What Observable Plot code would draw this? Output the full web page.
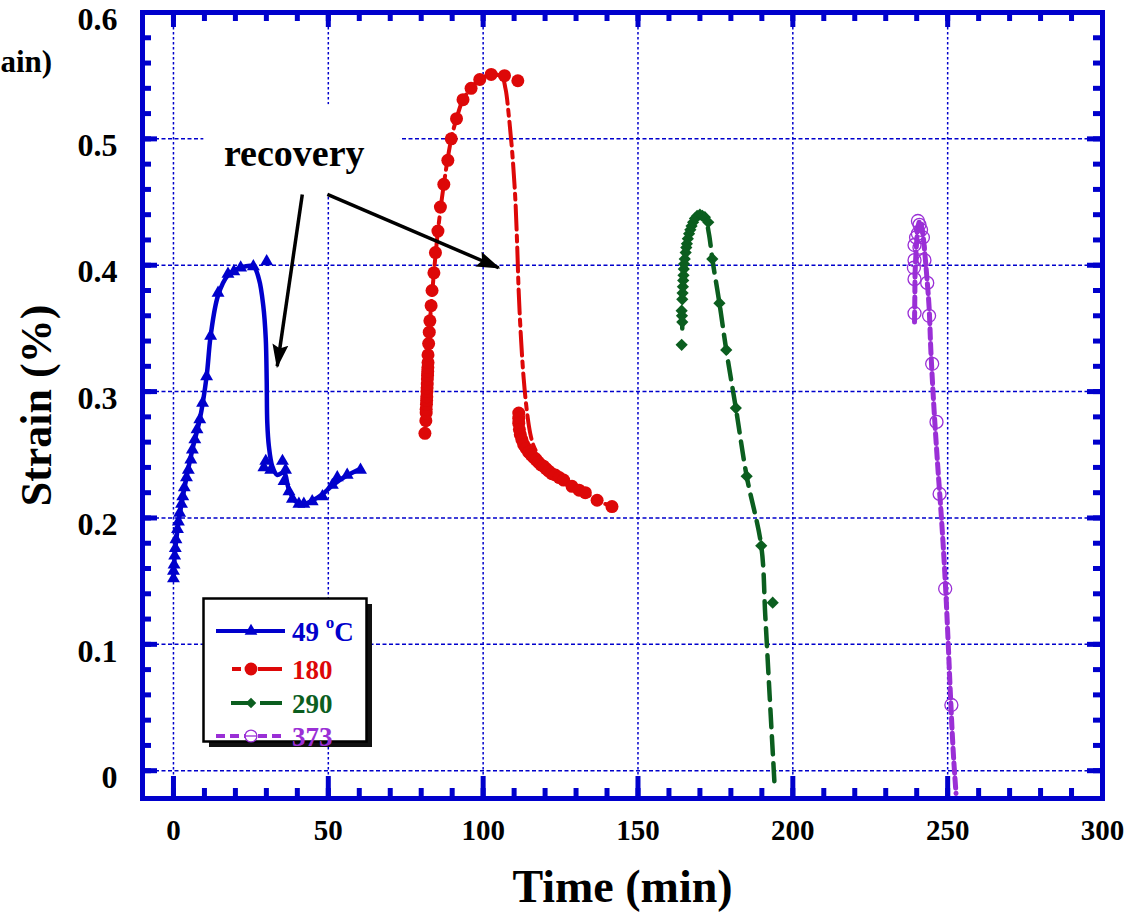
<!DOCTYPE html>
<html><head><meta charset="utf-8">
<script src="https://cdn.jsdelivr.net/npm/d3@7"></script>
<script src="https://cdn.jsdelivr.net/npm/@observablehq/plot@0.6"></script>
<style>
body{margin:0;background:#fff}
#chart svg{display:block}
</style></head><body><div id="chart"></div>
<script>
// ---- data (time in min, strain in %) ----
const series = ["49 °C", "180", "290", "373"];
const xTicks = [0, 50, 100, 150, 200, 250, 300];
const yTicks = [0, 0.1, 0.2, 0.3, 0.4, 0.5, 0.6];
const yTickLabels = ["0", "0.1", "0.2", "0.3", "0.4", "0.5", "0.6"];
const xGrid = [0, 50, 100, 150, 200, 250];
const yGrid = [0, 0.1, 0.2, 0.3, 0.4, 0.5];
const xMinor = [0,10,20,30,40,50,60,70,80,90,100,110,120,130,140,150,160,170,180,190,200,210,220,230,240,250,260,270,280,290];
const yMinor = [0,0.02,0.04,0.06,0.08,0.1,0.12,0.14,0.16,0.18,0.2,0.22,0.24,0.26,0.28,0.3,0.32,0.34,0.36,0.38,0.4,0.42,0.44,0.46,0.48,0.5,0.52,0.54,0.56,0.58];

// 49 °C markers
const t49 = [0, 0, 0.2, 0.4, 0.6, 0.8, 1.3, 1.6, 2.0, 2.6, 3.0, 3.5, 4.2, 4.8, 5.6, 6.1, 6.9, 7.6, 8.5, 9.4, 10.7, 12.0, 14.4, 17.6, 19.5, 21.7, 25.8, 30.1, 29.2, 29.8, 31.4, 35.2, 36.2, 35.7, 37.3, 38.4, 40.5, 42.1, 44.8, 48.1, 51.3, 52.9, 56.1, 60.4];
const s49 = [0.152, 0.158, 0.163, 0.170, 0.176, 0.183, 0.191, 0.197, 0.204, 0.211, 0.217, 0.224, 0.232, 0.238, 0.246, 0.254, 0.262, 0.270, 0.278, 0.291, 0.312, 0.344, 0.378, 0.393, 0.395, 0.398, 0.399, 0.403, 0.240, 0.245, 0.238, 0.245, 0.238, 0.229, 0.221, 0.215, 0.211, 0.211, 0.213, 0.217, 0.226, 0.232, 0.234, 0.238];
// 49 °C curve
const lt49 = [0, 0.4, 1.3, 2.6, 4.2, 6.1, 8.5, 10.7, 12.0, 14.4, 17.6, 21.7, 25.8, 27.6, 29.0, 29.8, 30.1, 30.3, 30.8, 31.9, 33.5, 35.7, 37.2, 39.5, 42.0, 45.0, 48.2, 51.4, 55.6, 60.4];
const ls49 = [0.152, 0.170, 0.191, 0.211, 0.232, 0.254, 0.278, 0.312, 0.344, 0.376, 0.392, 0.398, 0.399, 0.389, 0.368, 0.342, 0.310, 0.275, 0.257, 0.241, 0.234, 0.236, 0.223, 0.213, 0.211, 0.214, 0.219, 0.226, 0.233, 0.239];

// 180 markers
const t180 = [81.2, 81.5, 81.6, 81.6, 81.7, 81.75, 81.8, 81.85, 81.9, 81.95, 82.0, 82.05, 82.1, 82.15, 82.2, 82.2, 82.4, 82.6, 82.8, 83.2, 83.5, 84.1, 84.6, 85.4, 86.2, 87.3, 88.6, 89.7, 91.4, 93.5, 96.1, 98.9, 102.6, 106.9, 111.2,
  111.5, 111.5, 111.5, 111.7, 112.0, 112.5, 113.1, 113.9, 114.7, 115.5, 116.3, 117.1, 117.9, 118.7, 119.5, 120.3, 121.2, 122.2, 123.3, 124.6, 126.0, 128.7, 131.0, 133.0, 136.8, 141.6];
const s180 = [0.267, 0.277, 0.283, 0.286, 0.290, 0.293, 0.296, 0.300, 0.303, 0.306, 0.310, 0.313, 0.316, 0.319, 0.323, 0.329, 0.338, 0.347, 0.356, 0.368, 0.380, 0.394, 0.410, 0.427, 0.446, 0.464, 0.483, 0.500, 0.516, 0.531, 0.540, 0.547, 0.551, 0.550, 0.546,
  0.283, 0.279, 0.275, 0.270, 0.266, 0.262, 0.258, 0.255, 0.252, 0.250, 0.248, 0.246, 0.244, 0.242, 0.241, 0.239, 0.237, 0.235, 0.234, 0.232, 0.230, 0.225, 0.222, 0.220, 0.214, 0.209];
// 180 curve
const lt180 = [81.5, 81.8, 82.2, 82.6, 83.2, 84.1, 85.4, 87.3, 89.7, 91.4, 93.5, 96.1, 98.9, 102.6, 106.0, 107.2, 108.3, 109.4, 110.4, 111.0, 111.5, 112.3, 113.1, 114.2, 115.2, 116.3, 118.0, 120.3, 123.3, 128.7, 133.0, 136.8, 141.6];
const ls180 = [0.277, 0.296, 0.323, 0.347, 0.368, 0.394, 0.427, 0.464, 0.500, 0.516, 0.531, 0.540, 0.547, 0.551, 0.549, 0.540, 0.518, 0.489, 0.452, 0.415, 0.378, 0.339, 0.310, 0.283, 0.267, 0.257, 0.249, 0.241, 0.234, 0.225, 0.220, 0.214, 0.209];

// 290 markers
const t290 = [164.1, 164.3, 164.2, 164.1, 164.3, 164.4, 164.5, 164.6, 164.7, 164.8, 164.9, 165.1, 165.4, 165.6, 165.8, 166.1, 166.5, 166.9, 167.3, 167.8, 168.4, 169.1, 170.0, 170.8, 171.6, 172.7,
  174.0, 176.3, 178.5, 181.6, 185.1, 189.8, 193.5];
const s290 = [0.337, 0.355, 0.360, 0.364, 0.373, 0.378, 0.383, 0.388, 0.392, 0.397, 0.401, 0.405, 0.410, 0.414, 0.417, 0.421, 0.425, 0.428, 0.431, 0.434, 0.437, 0.439, 0.440, 0.439, 0.438, 0.434,
  0.405, 0.370, 0.333, 0.287, 0.233, 0.178, 0.133];
// 290 curve
const lt290 = [164.3, 164.3, 164.7, 165.4, 166.5, 168.4, 170.0, 171.6, 172.9, 174.0, 176.3, 178.5, 181.6, 185.1, 189.8, 191.1, 192.5, 194.1];
const ls290 = [0.350, 0.373, 0.392, 0.410, 0.425, 0.437, 0.440, 0.438, 0.425, 0.405, 0.370, 0.333, 0.287, 0.233, 0.178, 0.123, 0.060, -0.011];

// 373 markers
const t373 = [240.4, 240.9, 241.4, 240.4, 239.8, 242.0, 239.3, 240.9, 242.5, 239.3, 239.1, 239.3, 243.4, 239.3, 244.0, 245.0, 246.4, 247.4, 249.2, 251.2];
const s373 = [0.435, 0.432, 0.428, 0.425, 0.422, 0.422, 0.416, 0.414, 0.404, 0.404, 0.398, 0.389, 0.386, 0.362, 0.360, 0.322, 0.276, 0.219, 0.144, 0.052];
// 373 curve
const lt373 = [239.3, 239.4, 239.5, 239.9, 240.4, 241.0, 241.8, 242.6, 243.3, 244.0, 244.6, 245.6, 246.8, 248.1, 249.2, 250.1, 250.9, 251.8, 252.7];
const ls373 = [0.355, 0.375, 0.395, 0.415, 0.430, 0.435, 0.428, 0.410, 0.390, 0.367, 0.331, 0.286, 0.241, 0.196, 0.151, 0.105, 0.060, 0.015, -0.018];

// annotation
const recoveryLabel = [{t: 39.0, s: 0.488, text: "recovery"}];
const recoveryBox = [{t1: 9.8, t2: 73.3, s1: 0.456, s2: 0.527}];
const arrows = [{t1: 41.6, s1: 0.456, t2: 33.5, s2: 0.320}, {t1: 49.7, s1: 0.456, t2: 105.0, s2: 0.398}];

// ---- build ----
const BLUE = "#0000cc", RED = "#dd0808", GREEN = "#0b5e1f", PURPLE = "#9a2fd6";
const zip = (t, s) => t.map((d, i) => ({t: d, s: s[i]}));
const FONT = "'Liberation Serif', 'Times New Roman', serif";
const FW = 960, FH = 786;

const plot = Plot.plot({
  width: 1136, height: 920,
  marginLeft: 142, marginRight: 34, marginTop: 12, marginBottom: 122,
  x: {domain: [-10, 300]},
  y: {domain: [-0.022, 0.6]},
  style: {fontFamily: FONT, background: "white", color: "black"},
  marks: [
    Plot.gridX(xGrid, {stroke: BLUE, strokeOpacity: 1, strokeWidth: 1.5, strokeDasharray: "2.5,2.5"}),
    Plot.gridY(yGrid, {stroke: BLUE, strokeOpacity: 1, strokeWidth: 1.5, strokeDasharray: "4,2.5"}),
    Plot.rect(recoveryBox, {x1: "t1", x2: "t2", y1: "s1", y2: "s2", fill: "white"}),
    Plot.line(zip(lt49, ls49), {x: "t", y: "s", stroke: BLUE, strokeWidth: 4.5, curve: "catmull-rom", clip: true}),
    Plot.line(zip(lt180, ls180), {x: "t", y: "s", stroke: RED, strokeWidth: 4, strokeDasharray: "24,6,6,6", curve: "catmull-rom", clip: true}),
    Plot.line(zip(lt290, ls290), {x: "t", y: "s", stroke: GREEN, strokeWidth: 4.5, strokeDasharray: "18,9", curve: "catmull-rom", clip: true}),
    Plot.line(zip(lt373, ls373), {x: "t", y: "s", stroke: PURPLE, strokeWidth: 5, strokeDasharray: "10,5", curve: "catmull-rom", clip: true}),
    Plot.dot(zip(t49, s49), {x: "t", y: "s", symbol: "triangle", r: 4.8, fill: BLUE}),
    Plot.dot(zip(t180, s180), {x: "t", y: "s", symbol: "circle", r: 6.5, fill: RED}),
    Plot.dot(zip(t290, s290), {x: "t", y: "s", symbol: "diamond2", r: 5.5, fill: GREEN}),
    Plot.dot(zip(t373, s373), {x: "t", y: "s", symbol: "circle", r: 6.5, fill: "none", stroke: PURPLE, strokeWidth: 1.3}),
    Plot.link(arrows, {x1: "t1", y1: "s1", x2: "t2", y2: "s2", stroke: "black", strokeWidth: 3.5}),
    Plot.text(recoveryLabel, {x: "t", y: "s", text: "text", fontSize: 38, fontWeight: "bold", fill: "black"}),
    Plot.frame({stroke: BLUE, strokeWidth: 5}),
    // inward ticks
    Plot.tickY(yMinor, {y: d => d, stroke: BLUE, strokeWidth: 5, insetRight: FW - 9}),
    Plot.tickY(yMinor, {y: d => d, stroke: BLUE, strokeWidth: 5, insetLeft: FW - 9}),
    Plot.tickY(yGrid, {y: d => d, stroke: BLUE, strokeWidth: 5, insetRight: FW - 15}),
    Plot.tickY(yGrid, {y: d => d, stroke: BLUE, strokeWidth: 5, insetLeft: FW - 15}),
    Plot.tickX(xMinor, {x: d => d, stroke: BLUE, strokeWidth: 5, insetTop: FH - 10}),
    Plot.tickX(xMinor, {x: d => d, stroke: BLUE, strokeWidth: 5, insetBottom: FH - 9}),
    Plot.tickX(xGrid, {x: d => d, stroke: BLUE, strokeWidth: 5, insetTop: FH - 22}),
    Plot.tickX(xGrid, {x: d => d, stroke: BLUE, strokeWidth: 5, insetBottom: FH - 15}),
    Plot.axisX(xTicks, {anchor: "bottom", tickSize: 0, tickPadding: 21, fontSize: 29, fontWeight: "bold", label: null}),
    Plot.axisY(yTicks, {anchor: "left", tickSize: 0, tickPadding: 25, fontSize: 32, fontWeight: "bold", label: null, dy: 7,
      tickFormat: d => yTickLabels[yTicks.indexOf(d)]}),
    Plot.text(["Time (min)"], {frameAnchor: "bottom", dy: 103, fontSize: 46, fontWeight: "bold"}),
    Plot.text(["Strain (%)"], {frameAnchor: "left", dx: -106, rotate: -90, textAnchor: "middle", lineAnchor: "middle", fontSize: 44, fontWeight: "bold"}),
    Plot.text(["ain)"], {frameAnchor: "top-left", dx: -142, dy: 37, textAnchor: "start", fontSize: 31, fontWeight: "bold"})
  ]
});

// arrowheads
const svg = d3.select(plot);
const defs = svg.insert("defs", ":first-child");
defs.append("marker").attr("id", "ah").attr("markerUnits", "userSpaceOnUse")
  .attr("viewBox", "0 0 24 18").attr("markerWidth", 24).attr("markerHeight", 18)
  .attr("refX", 22).attr("refY", 9).attr("orient", "auto")
  .append("path").attr("d", "M0,1 L24,9 L0,17 L4,9 Z").attr("fill", "black");
svg.selectAll('g[aria-label="link"] path').attr("marker-end", "url(#ah)");

// legend
const legendRows = [
  {name: series[0], color: BLUE, y: 631, segs: [[216, 285]], dash: null, sym: d3.symbolTriangle, size: 70, fill: BLUE, stroke: "none"},
  {name: series[1], color: RED, y: 669, segs: [[232, 241], [258, 282]], dash: null, sym: d3.symbolCircle, size: 130, fill: RED, stroke: "none"},
  {name: series[2], color: GREEN, y: 703, segs: [[231, 248], [260, 282]], dash: null, sym: d3.symbolDiamond2, size: 70, fill: GREEN, stroke: "none"},
  {name: series[3], color: PURPLE, y: 736, segs: [[216, 285]], dash: "9,5", sym: d3.symbolCircle, size: 110, fill: "white", stroke: PURPLE}
];
const lg = svg.append("g").attr("font-family", FONT).attr("font-weight", "bold").attr("font-size", 27).attr("text-anchor", "start");
lg.append("rect").attr("x", 209).attr("y", 604).attr("width", 163).attr("height", 143).attr("fill", "#111");
lg.append("rect").attr("x", 203.5).attr("y", 598.5).attr("width", 163).attr("height", 143).attr("fill", "white").attr("stroke", "black").attr("stroke-width", 2.5);
legendRows.forEach(r => {
  r.segs.forEach(([a, b]) => lg.append("line").attr("x1", a).attr("x2", b).attr("y1", r.y).attr("y2", r.y)
    .attr("stroke", r.color).attr("stroke-width", 4).attr("stroke-dasharray", r.dash));
  lg.append("path").attr("d", d3.symbol(r.sym, r.size)()).attr("transform", `translate(251,${r.y})`)
    .attr("fill", r.fill).attr("stroke", r.stroke).attr("stroke-width", 1.3);
  if (r.stroke !== "none") lg.append("line").attr("x1", 245).attr("x2", 257).attr("y1", r.y).attr("y2", r.y).attr("stroke", r.color).attr("stroke-width", 1.3);
  const tx = lg.append("text").attr("x", 292).attr("y", r.y + 10).attr("fill", r.color);
  if (r.name.includes("°")) {
    tx.append("tspan").text("49 ");
    tx.append("tspan").text("o").attr("font-size", 17).attr("dy", -13);
    tx.append("tspan").text("C").attr("dy", 13);
  } else tx.text(r.name);
});

document.getElementById("chart").appendChild(plot);
</script></body></html>
